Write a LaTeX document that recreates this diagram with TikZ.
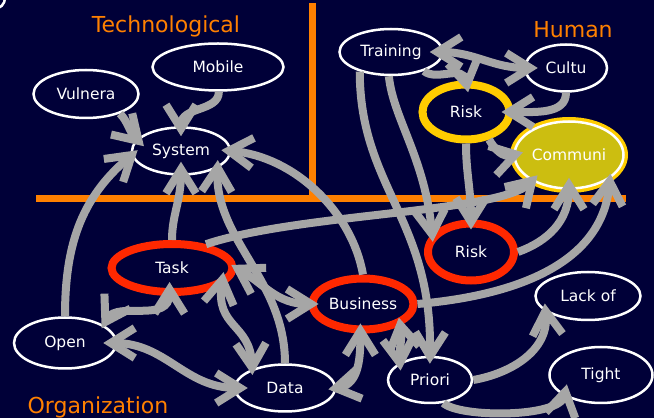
\documentclass[tikz,border=0pt]{standalone}
\usepackage{fontspec}
\setmainfont{DejaVu Sans}
\usetikzlibrary{arrows.meta,shapes.geometric}
\definecolor{bgblue}{RGB}{0,0,56}
\definecolor{arrowgray}{RGB}{166,166,166}
\definecolor{ringred}{RGB}{255,40,0}
\definecolor{ringyellow}{RGB}{255,204,0}
\definecolor{hotfill}{RGB}{204,190,16}
\definecolor{titleorange}{RGB}{255,128,0}
\newcommand{\nodefont}{\fontsize{15.5}{18}\selectfont}
\newcommand{\headfont}{\fontsize{22}{26}\selectfont}
\newcommand{\lbl}[1]{\makebox[0pt]{#1}}
\tikzset{
    arr/.style={->,>={Straight Barb[length=24pt,width=30pt]},draw=arrowgray,line width=8pt},
    darr/.style={arr,<->},
    oval/.style={ellipse,draw=white,line width=2.5pt,inner sep=0pt,text=white,font=\nodefont},
    dims/.style 2 args={minimum width=#1pt,minimum height=#2pt},
    red ring/.style={oval,draw=ringred,line width=8pt},
    yellow ring/.style={oval,draw=ringyellow,line width=8pt},
    hot/.style={oval,fill=hotfill,preaction={draw=ringyellow,line width=9pt}},
    heading/.style={text=titleorange,font=\headfont,anchor=base,inner sep=0pt},
    divider/.style={draw=titleorange,line width=7pt},
}

\begin{document}
\begin{tikzpicture}[x=1pt,y=1pt]
    \fill[bgblue] (0,0) rectangle (654,418);
    \useasboundingbox (0,0) rectangle (654,418);
    \draw[white,line width=2.5pt] (-6,420) circle[radius=11];

    % quadrants
    \draw[divider] (312,415) -- (312,219.5);
    \draw[divider] (36,219.5) -- (626,219.5);
    \node[heading] (tech) at (166,385) {Technological};
    \node[heading] (human) at (573,380) {Human};
    \node[heading] (orga) at (98,4) {Organization};

    % factors
    \node[oval,dims={105}{48}] (vulnera) at (86,324) {\lbl{Vulnera}};
    \node[oval,dims={131}{47}] (mobile) at (218,351) {\lbl{Mobile}};
    \node[oval,dims={98}{47}] (system) at (181,267) {\lbl{System}};
    \node[oval,dims={103}{46}] (training) at (391,366) {\lbl{Training}};
    \node[oval,dims={82}{47}] (cultu) at (566,350) {\lbl{Cultu}};
    \node[yellow ring,dims={87}{55}] (riskh) at (466,306) {\lbl{Risk}};
    \node[hot,dims={109}{67}] (communi) at (569,263) {\lbl{Communi}};
    \node[red ring,dims={121}{48}] (task) at (172,150) {\lbl{Task}};
    \node[oval,dims={102}{51}] (open) at (65,75) {\lbl{Open}};
    \node[oval,dims={100}{47}] (data) at (285,30) {\lbl{Data}};
    \node[red ring,dims={101}{51}] (business) at (363,114) {\lbl{Business}};
    \node[red ring,dims={86}{57}] (riskt) at (471,166) {\lbl{Risk}};
    \node[oval,dims={105}{48}] (lackof) at (588,122) {\lbl{Lack of}};
    \node[oval,dims={84}{46}] (priori) at (430,38) {\lbl{Priori}};
    \node[oval,dims={103}{56}] (tight) at (601,43) {\lbl{Tight}};

    % into system
    \draw[arr,shorten >=-10pt] (vulnera.-30) to[out=-45,in=135] (system.165);
    \draw[arr,shorten >=-10pt] (mobile.-88) to[out=-90,in=90] (system.north);
    \draw[arr,shorten >=-8pt] (open.north) to[out=90,in=220] (system.185);
    \draw[arr,shorten >=-14pt] (task.north) to[out=90,in=-90] (system.south);
    \draw[arr,shorten >=-8pt] (data.north) .. controls (285,138) and (215,178) .. (system.-25);
    \draw[arr,shorten >=-10pt] (business.north) to[out=100,in=-5,looseness=.9] (system.east);

    % into communi
    \draw[arr,shorten >=-8pt] (task.35) .. controls (300,205) and (500,205) .. (communi.215);
    \draw[arr,shorten >=-12pt] (riskt.east) to[out=20,in=-90] (communi.south);
    \draw[arr,shorten >=-5pt] (business.east) to[out=5,in=-95] (communi.-30);
    \draw[arr,shorten >=-10pt] (riskh.-50) to[out=-60,in=195] (communi.west);

    % human side
    \draw[arr,shorten >=-12pt] (cultu.south) to[out=-90,in=0] (riskh.east);
    \draw[darr,shorten <=-14pt,shorten >=-14pt] (training.east) to[out=0,in=180] (cultu.west);
    \draw[arr,shorten >=-12pt] (training.-30) to[out=-40,in=100] (riskh.north);
    \draw[arr,shorten >=-8pt] (training.-95) .. controls (393,300) and (425,260) .. (riskt.155);
    \draw[arr,shorten >=-8pt] (training.-148) .. controls (360,230) and (432,200) .. (priori.north);
    \draw[arr,shorten >=-10pt] (riskh.south) to[out=-90,in=90] (riskt.north);

    % organization side
    \draw[darr,shorten <=-4pt,shorten >=-14pt] (open.25) to[out=60,in=-90] (task.-95);
    \draw[darr,shorten <=-14pt,shorten >=-14pt] (open.east) to[out=0,in=180] (data.west);
    \draw[darr,shorten <=-14pt,shorten >=-6pt] (task.-20) .. controls (215,90) and (250,95) .. (data.150);
    \draw[darr,shorten <=-6pt,shorten >=-10pt] (task.east) to[out=-30,in=180] (business.west);
    \draw[darr,shorten <=-10pt,shorten >=-8pt] (business.-95) to[out=-90,in=10] (data.east);
    \draw[darr,shorten <=-8pt,shorten >=-8pt] (business.-30) to[out=-80,in=95] (priori.150);
    \draw[arr,shorten >=-8pt] (priori.east) to[out=10,in=-85] (lackof.200);
    \draw[arr,shorten >=-12pt] (priori.-60) .. controls (460,0) and (560,0) .. (tight.210);
\end{tikzpicture}
\end{document}
